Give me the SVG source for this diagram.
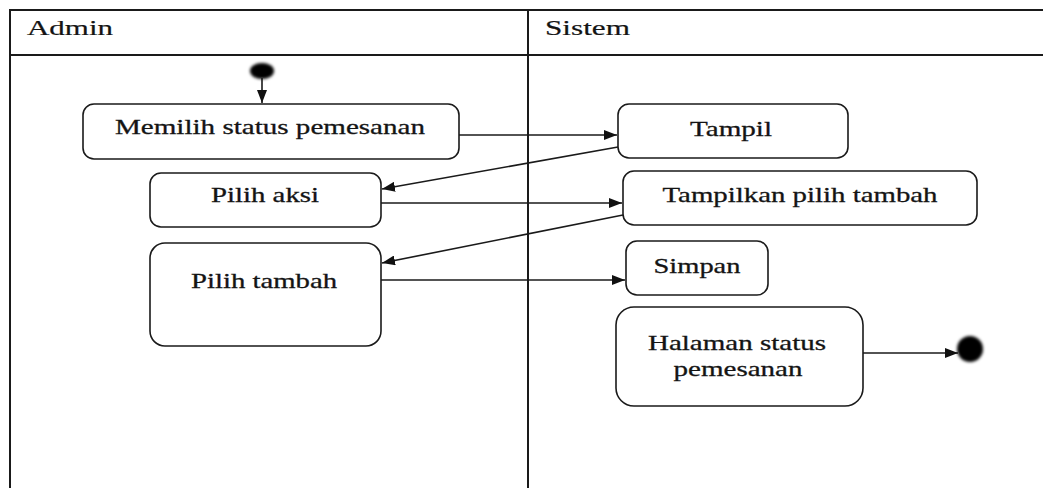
<svg xmlns="http://www.w3.org/2000/svg" width="1043" height="488" viewBox="0 0 1043 488">
  <style>
    .lane { fill: none; stroke: #1a1a1a; stroke-width: 2; }
    .act { fill: #ffffff; stroke: #1a1a1a; stroke-width: 1.6; }
    .lbl { font-family: "Liberation Serif", "Times New Roman", serif; font-size: 22px; fill: #141414; stroke: #141414; stroke-width: 0.3; text-anchor: middle; }
    .hdr { font-family: "Liberation Serif", "Times New Roman", serif; font-size: 22px; fill: #141414; stroke: #141414; stroke-width: 0.2; }
    .flow { fill: none; stroke: #1a1a1a; stroke-width: 1.6; }
  </style>
  <defs>
    <marker id="arrow" markerUnits="userSpaceOnUse" markerWidth="14" markerHeight="10" refX="13" refY="5" orient="auto">
      <path d="M0,0 L13,5 L0,10 Z" fill="#111"/>
    </marker>
    <filter id="soft" x="-50%" y="-50%" width="200%" height="200%">
      <feGaussianBlur stdDeviation="1.4"/>
    </filter>
  </defs>
  <rect width="1043" height="488" fill="#ffffff"/>

  <!-- swimlanes -->
  <g id="lanes">
    <path class="lane" d="M10,488 V10 H1043 M10,55 H1043 M528,10 V488"/>
    <text class="hdr" x="27" y="35" textLength="86" lengthAdjust="spacingAndGlyphs">Admin</text>
    <text class="hdr" x="545" y="35" textLength="85" lengthAdjust="spacingAndGlyphs">Sistem</text>
  </g>

  <!-- start / end -->
  <g id="start">
    <ellipse cx="262" cy="71" rx="12" ry="8" fill="#000" filter="url(#soft)"/>
  </g>
  <g id="end">
    <circle cx="970" cy="349" r="13" fill="#000" filter="url(#soft)"/>
  </g>

  <!-- activities -->
  <g id="memilih">
    <rect class="act" x="83" y="104" width="376" height="55" rx="11"/>
    <text class="lbl" x="270" y="134" textLength="310" lengthAdjust="spacingAndGlyphs">Memilih status pemesanan</text>
  </g>
  <g id="pilih-aksi">
    <rect class="act" x="150" y="173" width="231" height="54" rx="11"/>
    <text class="lbl" x="265" y="202" textLength="108" lengthAdjust="spacingAndGlyphs">Pilih aksi</text>
  </g>
  <g id="pilih-tambah">
    <rect class="act" x="150" y="243" width="231" height="103" rx="15"/>
    <text class="lbl" x="264" y="288" textLength="146" lengthAdjust="spacingAndGlyphs">Pilih tambah</text>
  </g>
  <g id="tampil">
    <rect class="act" x="618" y="104" width="230" height="54" rx="11"/>
    <text class="lbl" x="731" y="136" textLength="82" lengthAdjust="spacingAndGlyphs">Tampil</text>
  </g>
  <g id="tampilkan">
    <rect class="act" x="623" y="171" width="354" height="54" rx="11"/>
    <text class="lbl" x="800" y="202" textLength="275" lengthAdjust="spacingAndGlyphs">Tampilkan pilih tambah</text>
  </g>
  <g id="simpan">
    <rect class="act" x="626" y="241" width="142" height="54" rx="11"/>
    <text class="lbl" x="697" y="273" textLength="87" lengthAdjust="spacingAndGlyphs">Simpan</text>
  </g>
  <g id="halaman">
    <rect class="act" x="616" y="307" width="247" height="99" rx="18"/>
    <text class="lbl" x="737" y="350" textLength="178" lengthAdjust="spacingAndGlyphs">Halaman status</text>
    <text class="lbl" x="738" y="376" textLength="129" lengthAdjust="spacingAndGlyphs">pemesanan</text>
  </g>

  <!-- control flows -->
  <g id="connectors">
    <line class="flow" x1="262" y1="78" x2="262" y2="103" marker-end="url(#arrow)"/>
    <line class="flow" x1="459" y1="135" x2="617" y2="135" marker-end="url(#arrow)"/>
    <line class="flow" x1="618" y1="147" x2="382" y2="189" marker-end="url(#arrow)"/>
    <line class="flow" x1="381" y1="203" x2="622" y2="203" marker-end="url(#arrow)"/>
    <line class="flow" x1="623" y1="215" x2="382" y2="263" marker-end="url(#arrow)"/>
    <line class="flow" x1="381" y1="280" x2="625" y2="280" marker-end="url(#arrow)"/>
    <line class="flow" x1="863" y1="353" x2="958" y2="353" marker-end="url(#arrow)"/>
  </g>
</svg>
